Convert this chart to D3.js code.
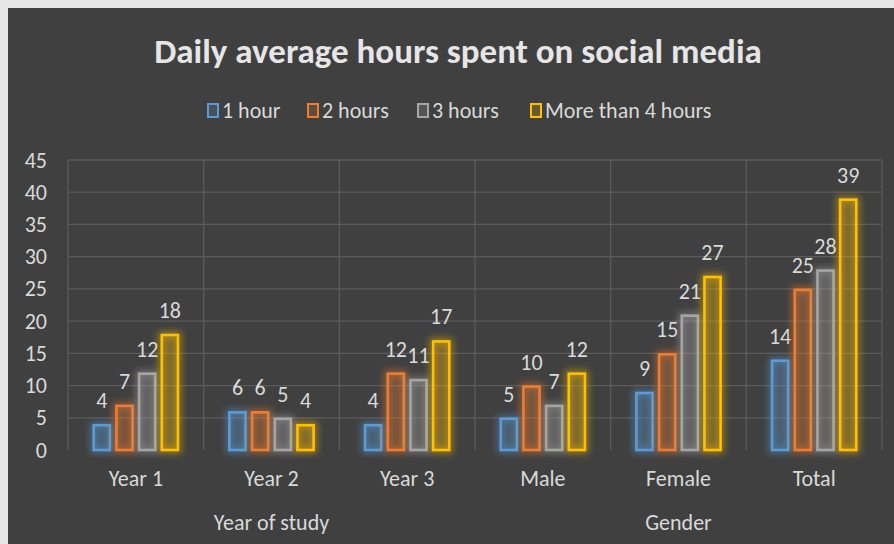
<!DOCTYPE html>
<html><head><meta charset="utf-8">
<script src="https://cdn.jsdelivr.net/npm/d3@7"></script>
<style>
html,body{margin:0;padding:0;background:#fff;}
svg{display:block;}
</style></head>
<body>
<svg id="chart" width="894" height="544"></svg>
<script>
const categories = ["Year 1","Year 2","Year 3","Male","Female","Total"];
const groups = [{label:"Year of study", from:0, to:2},{label:"Gender", from:3, to:5}];
const seriesNames = ["1 hour","2 hours","3 hours","More than 4 hours"];
const s1 = [4,6,4,5,9,14];
const s2 = [7,6,12,10,15,25];
const s3 = [12,5,11,7,21,28];
const s4 = [18,4,17,12,27,39];
const seriesValues = [s1,s2,s3,s4];
const colors = ["#5B9BD5","#ED7D31","#A5A5A5","#FFC000"];
const yTicks = [0,5,10,15,20,25,30,35,40,45];

const svg = d3.select("#chart");
const W=894,H=544;
svg.append("rect").attr("x",0).attr("y",0).attr("width",W).attr("height",H).attr("fill","#e6e6e6");
svg.append("rect").attr("x",8).attr("y",8).attr("width",W-8).attr("height",H-8).attr("fill","#404040");

const font = "Carlito, 'Liberation Sans Narrow', 'Open Sans', sans-serif";
const m = {left:68,right:882,top:160,bottom:450};
const x = d3.scaleBand().domain(categories).range([m.left,m.right]).paddingInner(0).paddingOuter(0);
const y = d3.scaleLinear().domain([0,45]).range([m.bottom,m.top]);
const xs = d3.scaleBand().domain(d3.range(4)).range([0,x.bandwidth()]).paddingInner(0.2).paddingOuter(1.09);

const defs = svg.append("defs");
colors.forEach((c,i)=>{
  const f = defs.append("filter").attr("id","glow"+i).attr("x","-60%").attr("y","-30%").attr("width","220%").attr("height","160%");
  f.append("feMorphology").attr("in","SourceAlpha").attr("operator","dilate").attr("radius",1.5).attr("result","d");
  f.append("feGaussianBlur").attr("in","d").attr("stdDeviation",3.5).attr("result","b");
  f.append("feFlood").attr("flood-color",c).attr("flood-opacity",0.5);
  f.append("feComposite").attr("in2","b").attr("operator","in").attr("result","g");
  const mg=f.append("feMerge");
  mg.append("feMergeNode").attr("in","g");
  mg.append("feMergeNode").attr("in","SourceGraphic");
});

// gridlines
const grid = svg.append("g");
grid.selectAll("line.h").data(yTicks).join("line")
  .attr("x1",m.left).attr("x2",m.right).attr("y1",d=>y(d)).attr("y2",d=>y(d))
  .attr("stroke",d=>d===0?"none":"#5b5b5b").attr("stroke-width",1.3);
const vlines = categories.map(c=>x(c)).concat([m.right]);
grid.selectAll("line.v").data(vlines).join("line")
  .attr("x1",d=>d).attr("x2",d=>d).attr("y1",m.top).attr("y2",m.bottom)
  .attr("stroke","#5b5b5b").attr("stroke-width",1.3);

// y axis labels
const yAxis = d3.axisLeft(y).tickValues(yTicks).tickSize(0).tickPadding(0);
const ya = svg.append("g").attr("transform",`translate(47,0)`).call(yAxis);
ya.select(".domain").remove();
ya.selectAll("text").attr("fill","#d9d9d9").style("font-family",font).style("font-size","22px");

// bars
seriesValues.forEach((vals,si)=>{
  const g = svg.append("g");
  g.selectAll("rect").data(vals).join("rect")
    .attr("x",(d,i)=>x(categories[i])+xs(si)+1)
    .attr("y",d=>y(d)+1)
    .attr("width",xs.bandwidth()-2)
    .attr("height",d=>y(0)-y(d)-1)
    .attr("fill",colors[si]).attr("fill-opacity",0.2)
    .attr("stroke",colors[si]).attr("stroke-width",2.6)
    .attr("filter",`url(#glow${si})`);
  g.selectAll("text").data(vals).join("text")
    .attr("x",(d,i)=>x(categories[i])+xs(si)+xs.bandwidth()/2)
    .attr("y",d=>y(d)-16)
    .attr("text-anchor","middle")
    .attr("fill","#d9d9d9").style("font-family",font).style("font-size","22px")
    .text(d=>d);
});

// x axis labels
const xAxis = d3.axisBottom(x).tickSize(0).tickPadding(0);
const xa = svg.append("g").attr("transform",`translate(0,${m.bottom})`).call(xAxis);
xa.select(".domain").remove();
xa.selectAll("text").attr("dy",null).attr("y",36).attr("fill","#d9d9d9").style("font-family",font).style("font-size","22px");

svg.append("g").selectAll("text").data(groups).join("text")
  .attr("x",d=>(x(categories[d.from])+x(categories[d.to])+x.bandwidth())/2)
  .attr("y",530).attr("text-anchor","middle")
  .attr("fill","#d9d9d9").style("font-family",font).style("font-size","22px")
  .text(d=>d.label);

// title
svg.append("text").attr("x",458).attr("y",63).attr("text-anchor","middle")
  .attr("fill","#e6e6e6").style("font-family",font).style("font-size","35px").style("font-weight","bold")
  .text("Daily average hours spent on social media");

// legend
const legX = [207,307,417,530];
const leg = svg.append("g");
seriesNames.forEach((n,i)=>{
  leg.append("rect").attr("x",legX[i]+1).attr("y",104).attr("width",10).attr("height",13)
    .attr("fill",colors[i]).attr("fill-opacity",0.2).attr("stroke",colors[i]).attr("stroke-width",2);
  leg.append("text").attr("x",legX[i]+15).attr("y",118).attr("fill","#d9d9d9")
    .style("font-family",font).style("font-size","22px").text(n);
});
</script>
</body></html>
